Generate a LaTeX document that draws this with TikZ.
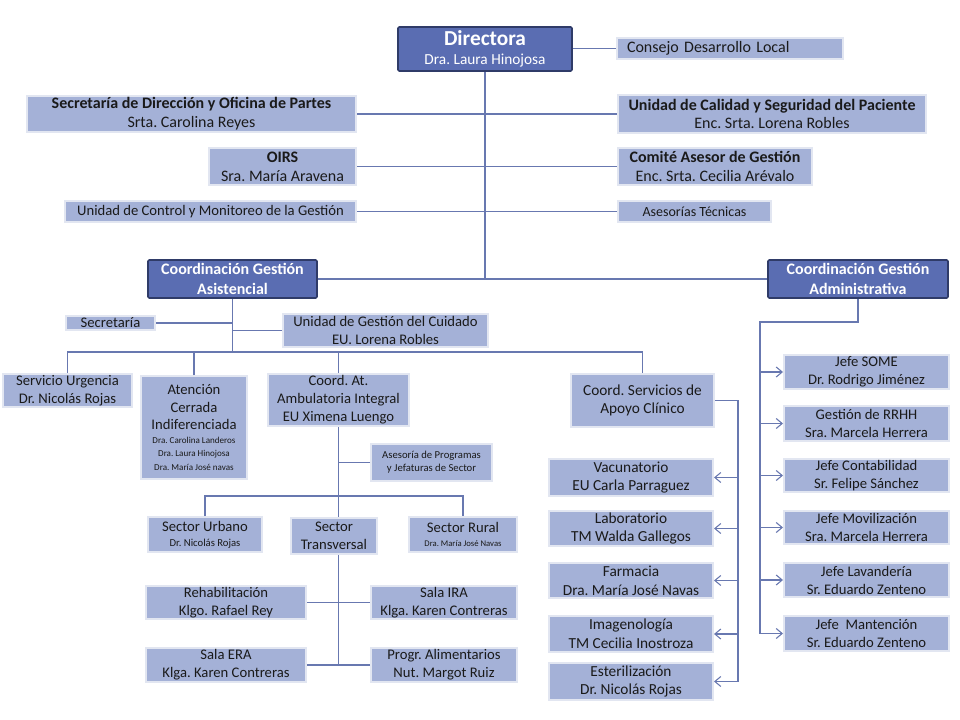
\documentclass[tikz,border=0pt]{standalone}
\usepackage{fontspec}
\setmainfont{Carlito}
\usetikzlibrary{arrows.meta}
\definecolor{lfill}{HTML}{A4B1D7}
\definecolor{lborder}{HTML}{E2E6F1}
\definecolor{dfill}{HTML}{5A6DB2}
\definecolor{dborder}{HTML}{2F3B68}
\definecolor{lcol}{HTML}{6878B0}
\definecolor{txt}{HTML}{1A1A1A}
\newcommand\fsz[2]{\fontsize{#1}{#2}\selectfont}
\tikzset{
  sz/.style 2 args={minimum width={(#1-2)*0.75pt},minimum height={(#2-2)*0.75pt}},
  lbox/.style={draw=lborder,line width=1.5pt,fill=lfill,text=txt,align=center,inner sep=1pt,font=\frenchspacing\fsz{11}{13.5}},
  dbox/.style={draw=dborder,line width=1.2pt,fill=dfill,text=white,align=center,inner sep=1pt,rounded corners=1pt},
  conn/.style={draw=lcol,line width=0.8pt},
  arr/.style={conn,-{Straight Barb[length=4.5pt,width=7.5pt]}}
}
\begin{document}
\begin{tikzpicture}[x=0.75pt,y=-0.75pt]
\useasboundingbox[fill=white] (0,0) rectangle (960,720);
% top level
\node[dbox,sz={176}{46},font=\frenchspacing] (dir) at (485,49) {{\fsz{16}{19}\bfseries Directora}\\[2.5pt]{\fsz{11.5}{14}Dra. Laura Hinojosa}};
\node[lbox,sz={226}{23},text width=154.5pt,inner xsep=7.5pt,align=left,font=\frenchspacing\fsz{12}{14}] (consejo) at (730,48.5) {Consejo Desarrollo Local};
\node[lbox,sz={331}{38},font=\frenchspacing\fsz{12}{14}] (secdir) at (191.5,114) {\textbf{Secretaría de Dirección y Oficina de Partes}\\Srta. Carolina Reyes};
\node[lbox,sz={310}{40},font=\frenchspacing\fsz{12}{14}] (calidad) at (772,114) {\textbf{Unidad de Calidad y Seguridad del Paciente}\\Enc. Srta. Lorena Robles};
\node[lbox,sz={149}{39},font=\frenchspacing\fsz{12}{14}] (oirs) at (282.5,166.5) {\textbf{OIRS}\\Sra. María Aravena};
\node[lbox,sz={196}{39},font=\frenchspacing\fsz{12}{14}] (comite) at (715,166.5) {\textbf{Comité Asesor de Gestión}\\Enc. Srta. Cecilia Arévalo};
\node[lbox,sz={293}{23},font=\frenchspacing\fsz{11}{13}] (control) at (210.5,211.5) {Unidad de Control y Monitoreo de la Gestión};
\node[lbox,sz={155}{23},font=\frenchspacing\fsz{10.5}{13}] (asesorias) at (694.5,211.5) {Asesorías Técnicas};
\node[dbox,sz={171}{40},font=\frenchspacing\fsz{12}{15}\bfseries] (cga) at (232.5,279) {Coordinación Gestión\\Asistencial};
\node[dbox,sz={182}{40},font=\frenchspacing\fsz{12}{15}\bfseries] (cgad) at (858,279) {Coordinación Gestión\\Administrativa};
% asistencial
\node[lbox,sz={91}{16},font=\frenchspacing\fsz{11}{13}] (secret) at (110.5,323) {Secretaría};
\node[lbox,sz={207}{35}] (ugc) at (385.5,330.5) {Unidad de Gestión del Cuidado\\EU. Lorena Robles};
\node[lbox,sz={131}{35}] (urg) at (67.5,390.5) {Servicio Urgencia\\Dr. Nicolás Rojas};
\node[lbox,sz={108}{105},font=\frenchspacing\fsz{11}{13}] (acerr) at (194,427.5) {Atención\\Cerrada\\Indiferenciada\\[-2.5pt]\fsz{6.8}{10}Dra. Carolina Landeros\\[-3pt]\fsz{6.8}{10}Dra. Laura Hinojosa\\[-3pt]\fsz{6.8}{10}Dra. María José navas};
\node[lbox,sz={143}{54}] (coordat) at (338.5,400) {Coord. At.\\Ambulatoria Integral\\EU Ximena Luengo};
\node[lbox,sz={123}{39},font=\frenchspacing\fsz{8}{9.75}] (asesprog) at (431.5,462.5) {Asesoría de Programas\\y Jefaturas de Sector};
\node[lbox,sz={116}{37}] (surb) at (205,534.5) {Sector Urbano\\[-2.5pt]\fsz{8}{10.5}Dr. Nicolás Rojas};
\node[lbox,sz={88}{38}] (strans) at (334,536) {Sector\\Transversal};
\node[lbox,sz={110}{37}] (srur) at (463,534.5) {Sector Rural\\[-2.5pt]\fsz{6.5}{10.5}Dra. María José Navas};
\node[lbox,sz={162}{35}] (rehab) at (226,602.5) {Rehabilitación\\Klgo. Rafael Rey};
\node[lbox,sz={148}{35}] (ira) at (444,602.5) {Sala IRA\\Klga. Karen Contreras};
\node[lbox,sz={162}{36}] (era) at (226,665) {Sala ERA\\Klga. Karen Contreras};
\node[lbox,sz={148}{36}] (prog) at (444,665) {Progr. Alimentarios\\Nut. Margot Ruiz};
% apoyo clinico
\node[lbox,sz={145}{55},font=\frenchspacing\fsz{11.5}{14}] (csac) at (642.5,400.5) {Coord. Servicios de\\Apoyo Clínico};
\node[lbox,sz={166}{39},font=\frenchspacing\fsz{11.5}{14}] (vac) at (631,477.5) {Vacunatorio\\EU Carla Parraguez};
\node[lbox,sz={166}{37},font=\frenchspacing\fsz{11.5}{14}] (lab) at (631,528.5) {Laboratorio\\TM Walda Gallegos};
\node[lbox,sz={166}{37},font=\frenchspacing\fsz{11.5}{14}] (farm) at (631,580.5) {Farmacia\\Dra. María José Navas};
\node[lbox,sz={166}{38},font=\frenchspacing\fsz{11.5}{14}] (imag) at (631,634) {Imagenología\\TM Cecilia Inostroza};
\node[lbox,sz={166}{39},font=\frenchspacing\fsz{11.5}{14}] (ester) at (631,681.5) {Esterilización\\Dr. Nicolás Rojas};
% administrativa
\node[lbox,sz={167}{32}] (some) at (866.5,372) {Jefe SOME\\Dr. Rodrigo Jiménez};
\node[lbox,sz={167}{37}] (rrhh) at (866.5,423.5) {Gestión de RRHH\\Sra. Marcela Herrera};
\node[lbox,sz={167}{35}] (cont) at (866.5,475.5) {Jefe Contabilidad\\Sr. Felipe Sánchez};
\node[lbox,sz={167}{35}] (movil) at (866.5,527.5) {Jefe Movilización\\Sra. Marcela Herrera};
\node[lbox,sz={167}{36}] (lav) at (866.5,580) {Jefe Lavandería\\Sr. Eduardo Zenteno};
\node[lbox,sz={167}{37}] (mant) at (866.5,633.5) {Jefe\ \ Mantención\\Sr. Eduardo Zenteno};
% connectors top
\coordinate (t1) at (485,279);
\draw[conn] (consejo.west -| dir.east) -- (consejo.west);
\draw[conn] (dir.south) -- (t1);
\draw[conn] (secdir.east) -- (calidad.west);
\draw[conn] (oirs.east) -- (comite.west);
\draw[conn] (control.east) -- (asesorias.west);
\draw[conn] (cga.east) -- (cgad.west);
% asistencial
\coordinate (j1) at (232.5,352);
\draw[conn] (cga.south) -- (j1);
\draw[conn] (secret.east) -- (secret.east -| j1);
\draw[conn] (ugc.west) -- (ugc.west -| j1);
\draw[conn] (urg.north) |- (j1) -| (csac.north);
\draw[conn] (acerr.north) -- (acerr.north |- j1);
\draw[conn] (coordat.north) -- (coordat.north |- j1);
\coordinate (j2) at (338.5,496);
\draw[conn] (coordat.south) -- (j2);
\draw[conn] (asesprog.west) -- (asesprog.west -| j2);
\draw[conn] (surb.north) |- (j2) -| (srur.north);
\draw[conn] (j2) -- (j2 |- strans.north);
\coordinate (j3) at (338.5,665);
\draw[conn] (j2 |- strans.south) -- (j3);
\draw[conn] (rehab.east) -- (ira.west);
\draw[conn] (era.east) -- (prog.west);
% apoyo
\coordinate (s1) at (738,400.5);
\draw[conn] (csac.east) -- (s1) -- (s1 |- ester.east);
\foreach \n in {vac,lab,farm,imag,ester} \draw[arr] (s1 |- \n.east) -- (\n.east);
% administrativa
\coordinate (a1) at (760,322);
\draw[conn] (cgad.south) |- (a1) -- (a1 |- mant.west);
\foreach \n in {some,rrhh,cont,movil,lav,mant} \draw[arr] (a1 |- \n.west) -- (\n.west);
\end{tikzpicture}
\end{document}
